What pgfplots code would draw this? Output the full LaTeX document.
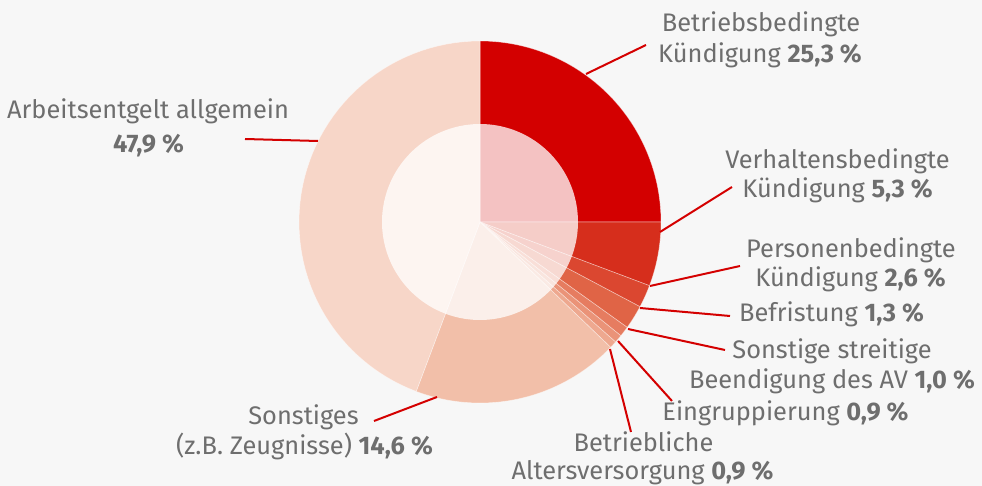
\documentclass[border=0pt]{standalone}
\usepackage{pgfplots}
\pgfplotsset{compat=1.18}
\usepackage{pgfplotstable}
\usepackage{fontspec}
\setmainfont{Fira Sans}
\definecolor{bg}{HTML}{F7F7F7}
\definecolor{txt}{HTML}{6E6E6E}
\definecolor{ln}{HTML}{D40000}
\definecolor{c1}{HTML}{D30000}
\definecolor{c2}{HTML}{D62E1C}
\definecolor{c3}{HTML}{DB4730}
\definecolor{c4}{HTML}{E06446}
\definecolor{c5}{HTML}{E67C60}
\definecolor{c6}{HTML}{EA9378}
\definecolor{c7}{HTML}{EEA88F}
\definecolor{c8}{HTML}{F2BFA9}
\definecolor{c9}{HTML}{F7D6C8}
% drawn shares of the slices (percent of the full circle), clockwise from the top
\pgfplotstableread{
share col
25.00 c1
5.72 c2
2.03 c3
2.14 c4
0.92 c5
0.72 c6
0.64 c7
18.56 c8
44.27 c9
}\piedata
\newcommand\lbl{\fontsize{12.7}{15}\selectfont\color{txt}}
\begin{document}
\begin{tikzpicture}
\begin{axis}[
  scale only axis, width=491pt, height=243pt,
  xmin=0, xmax=982, ymin=0, ymax=486, y dir=reverse,
  hide axis, clip=false,
]
\fill[bg] (rel axis cs:0,0) rectangle (rel axis cs:1,1);
\def\cum{0}
\pgfplotsforeachungrouped \i in {0,...,8}{%
  \pgfplotstablegetelem{\i}{share}\of\piedata \let\sh\pgfplotsretval
  \pgfplotstablegetelem{\i}{col}\of\piedata \let\cc\pgfplotsretval
  \pgfmathsetmacro\aS{90-3.6*\cum}%
  \pgfmathsetmacro\aE{90-3.6*(\cum+\sh)}%
  \pgfmathsetmacro\cum{\cum+\sh}%
  \edef\doit{\noexpand\addplot[fill=\cc, draw=white, draw opacity=0.45, line width=0.3pt, domain=\aE:\aS, samples=60, variable=\noexpand\t] ({480+181*cos(\noexpand\t)},{222-181*sin(\noexpand\t)}) -- (axis cs:480,222) -- cycle;}%
  \doit
}
\addplot[fill=white, fill opacity=0.76, draw=none, domain=0:360, samples=150, variable=\t] ({480+98*cos(\t)},{222-98*sin(\t)}) -- cycle;
% leader lines
\addplot[ln, line width=1pt] coordinates {(586,74) (646,45)};
\addplot[ln, line width=1pt] coordinates {(318,141) (245,139)};
\addplot[ln, line width=1pt] coordinates {(660,232) (732,187)};
\addplot[ln, line width=1pt] coordinates {(650,286) (740,266)};
\addplot[ln, line width=1pt] coordinates {(640,308) (730,316)};
\addplot[ln, line width=1pt] coordinates {(628,329) (725,350)};
\addplot[ln, line width=1pt] coordinates {(618,341) (672,401)};
\addplot[ln, line width=1pt] coordinates {(610,349) (631,432)};
\addplot[ln, line width=1pt] coordinates {(437,397) (374,421)};
% labels
\begin{scope}[every node/.style={anchor=base, inner sep=0pt, font=\lbl}]
\node at (axis cs:761,32) {Betriebsbedingte};
\node at (axis cs:760,63) {Kündigung \textbf{25,3 \%}};
\node at (axis cs:148,119) {Arbeitsentgelt allgemein};
\node at (axis cs:148.5,153) {\textbf{47,9 \%}};
\node at (axis cs:837.5,169) {Verhaltensbedingte};
\node at (axis cs:837.5,198) {Kündigung \textbf{5,3 \%}};
\node at (axis cs:851,258) {Personenbedingte};
\node at (axis cs:850.5,287) {Kündigung \textbf{2,6 \%}};
\node at (axis cs:831.5,322) {Befristung \textbf{1,3 \%}};
\node at (axis cs:832,359) {Sonstige streitige};
\node at (axis cs:832,389) {Beendigung des AV \textbf{1,0 \%}};
\node at (axis cs:785.5,421) {Eingruppierung \textbf{0,9 \%}};
\node at (axis cs:643.5,452) {Betriebliche};
\node at (axis cs:642.5,480) {Altersversorgung \textbf{0,9 \%}};
\node at (axis cs:303.5,425) {Sonstiges};
\node at (axis cs:304.5,455) {(z.B. Zeugnisse) \textbf{14,6 \%}};
\end{scope}
\end{axis}
\end{tikzpicture}
\end{document}
